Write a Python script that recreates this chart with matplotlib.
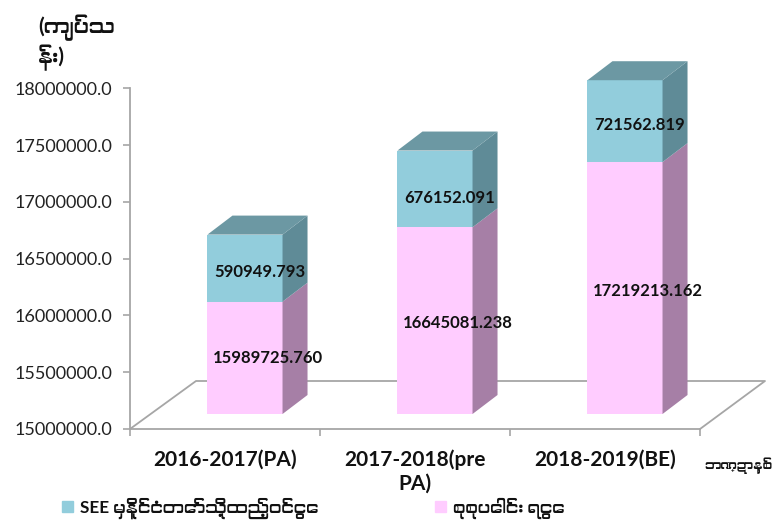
import matplotlib
matplotlib.use("Agg")
import matplotlib.pyplot as plt
from matplotlib.patches import Patch, Polygon
from matplotlib import font_manager as fm

W, H = 781, 530

categories = ["2016-2017(PA)", "2017-2018(pre\nPA)", "2018-2019(BE)"]
total_receipts = [15989725.760, 16645081.238, 17219213.162]
see_contribution = [590949.793, 676152.091, 721562.819]
total_labels = ["15989725.760", "16645081.238", "17219213.162"]
see_labels = ["590949.793", "676152.091", "721562.819"]
y_ticks = [15000000, 15500000, 16000000, 16500000, 17000000, 17500000, 18000000]

y_title = "(ကျပ်သ\nန်း)"
x_title = "ဘဏ္ဍာနှစ်"
see_name = "SEE မှနိုင်ငံတော်သို့ထည့်ဝင်ငွေ"
total_name = "စုစုပေါင်း ရငွေ"

BLUE, BLUE_SIDE, BLUE_TOP = "#92cddc", "#5f8b97", "#6c98a3"
PINK, PINK_SIDE = "#ffccff", "#a67fa6"
GREY = "#a6a6a6"

# latin comes from Lato, the myanmar font only fills in what Lato lacks
mm = [f.name for f in fm.fontManager.ttflist if "myanmar" in f.name.lower() or "padauk" in f.name.lower()]
plt.rcParams["font.family"] = ["Lato"] + mm[:1] + ["DejaVu Sans"]

fig = plt.figure(figsize=(W / 100, H / 100), dpi=100)
ax = fig.add_axes([130 / W, 1 - 429 / H, 570 / W, 340.5 / H])
ax.set_xlim(-0.5, 2.5)
ax.set_ylim(15000000, 18000000)

# pixel sizes turned into data units
px_x = 3 / 570
px_y = 3000000 / 340.5
ymin = y_ticks[0]


def floor_pt(x, y, dx, dy):
    return (x + dx * px_x, y + dy * px_y)


# floor of the fake 3d box
floor = [floor_pt(-0.5, ymin, 0, 0), floor_pt(-0.5, ymin, 66, 48),
         floor_pt(2.5, ymin, 65, 48), floor_pt(2.5, ymin, 0, 0)]
ax.plot([p[0] for p in floor], [p[1] for p in floor], color=GREY, lw=1.3, clip_on=False, zorder=1)

bar_w = 0.395
see_dy = [-4, -9, -4]
tot_dy = [0, -2, -3]
for i, (tot, see) in enumerate(zip(total_receipts, see_contribution)):
    left = i + 20 * px_x - bar_w / 2
    right = left + bar_w
    y0 = ymin + 15 * px_y
    y1 = y0 + (tot - ymin)
    y2 = y1 + see
    ax.bar(left, tot - ymin, bottom=y0, width=bar_w, align="edge", color=PINK, zorder=3, clip_on=False)
    ax.bar(left, see, bottom=y1, width=bar_w, align="edge", color=BLUE, zorder=3, clip_on=False)
    sx, sy = 25 * px_x, 19 * px_y
    ax.add_patch(Polygon([(right, y0), (right + sx, y0 + sy), (right + sx, y1 + sy), (right, y1)],
                         color=PINK_SIDE, lw=0, zorder=3, clip_on=False))
    ax.add_patch(Polygon([(right, y1), (right + sx, y1 + sy), (right + sx, y2 + sy), (right, y2)],
                         color=BLUE_SIDE, lw=0, zorder=3, clip_on=False))
    ax.add_patch(Polygon([(left, y2), (left + sx, y2 + sy), (right + sx, y2 + sy), (right, y2)],
                         color=BLUE_TOP, lw=0, zorder=3, clip_on=False))
    mid = (left + right) / 2
    ax.text(mid + 23 * px_x, (y0 + y1) / 2 + tot_dy[i] * px_y, total_labels[i], ha="center", va="center",
            fontsize=12, fontweight="bold", color="#111111", zorder=5)
    ax.text(mid + 15 * px_x, (y1 + y2) / 2 + see_dy[i] * px_y, see_labels[i], ha="center", va="center",
            fontsize=12, fontweight="bold", color="#111111", zorder=5)

for s in ["top", "right"]:
    ax.spines[s].set_visible(False)
for s in ["left", "bottom"]:
    ax.spines[s].set_color(GREY)
    ax.spines[s].set_linewidth(1.3)

ax.set_yticks(y_ticks)
ax.set_yticklabels([f"{v:.1f}" for v in y_ticks], fontsize=13, color="#222222")
ax.set_xticks([-0.5, 0.5, 1.5, 2.5])
ax.set_xticklabels([])
ax.set_xticks([0, 1, 2], minor=True)
ax.set_xticklabels(categories, minor=True, fontsize=15, fontweight="bold", color="#111111", linespacing=1.2)
ax.tick_params(axis="x", which="minor", length=0, pad=15)
ax.tick_params(axis="x", which="major", length=5, color=GREY, width=1.2)
ax.tick_params(axis="y", length=5, color=GREY, width=1.2, pad=7.5)

fig.text(38 / W, 1 - 43 / H, y_title, ha="left", va="center", fontsize=15, fontweight="bold", color="#111111")
fig.text(704 / W, 1 - 466 / H, x_title, ha="left", va="center", fontsize=9.5, fontweight="bold", color="#111111")

# legend sits below the ticks, one row
leg = fig.legend(handles=[Patch(color=BLUE, label=see_name), Patch(color=PINK, label=total_name)],
                 ncol=2, frameon=False, loc="center left", bbox_to_anchor=(47 / W, 1 - 508 / H),
                 handlelength=0.62, handleheight=0.62, handletextpad=0.4, columnspacing=6.85,
                 prop={"size": 12.3, "weight": "bold"}, labelcolor="#111111")

fig.savefig("out.png", dpi=100)
